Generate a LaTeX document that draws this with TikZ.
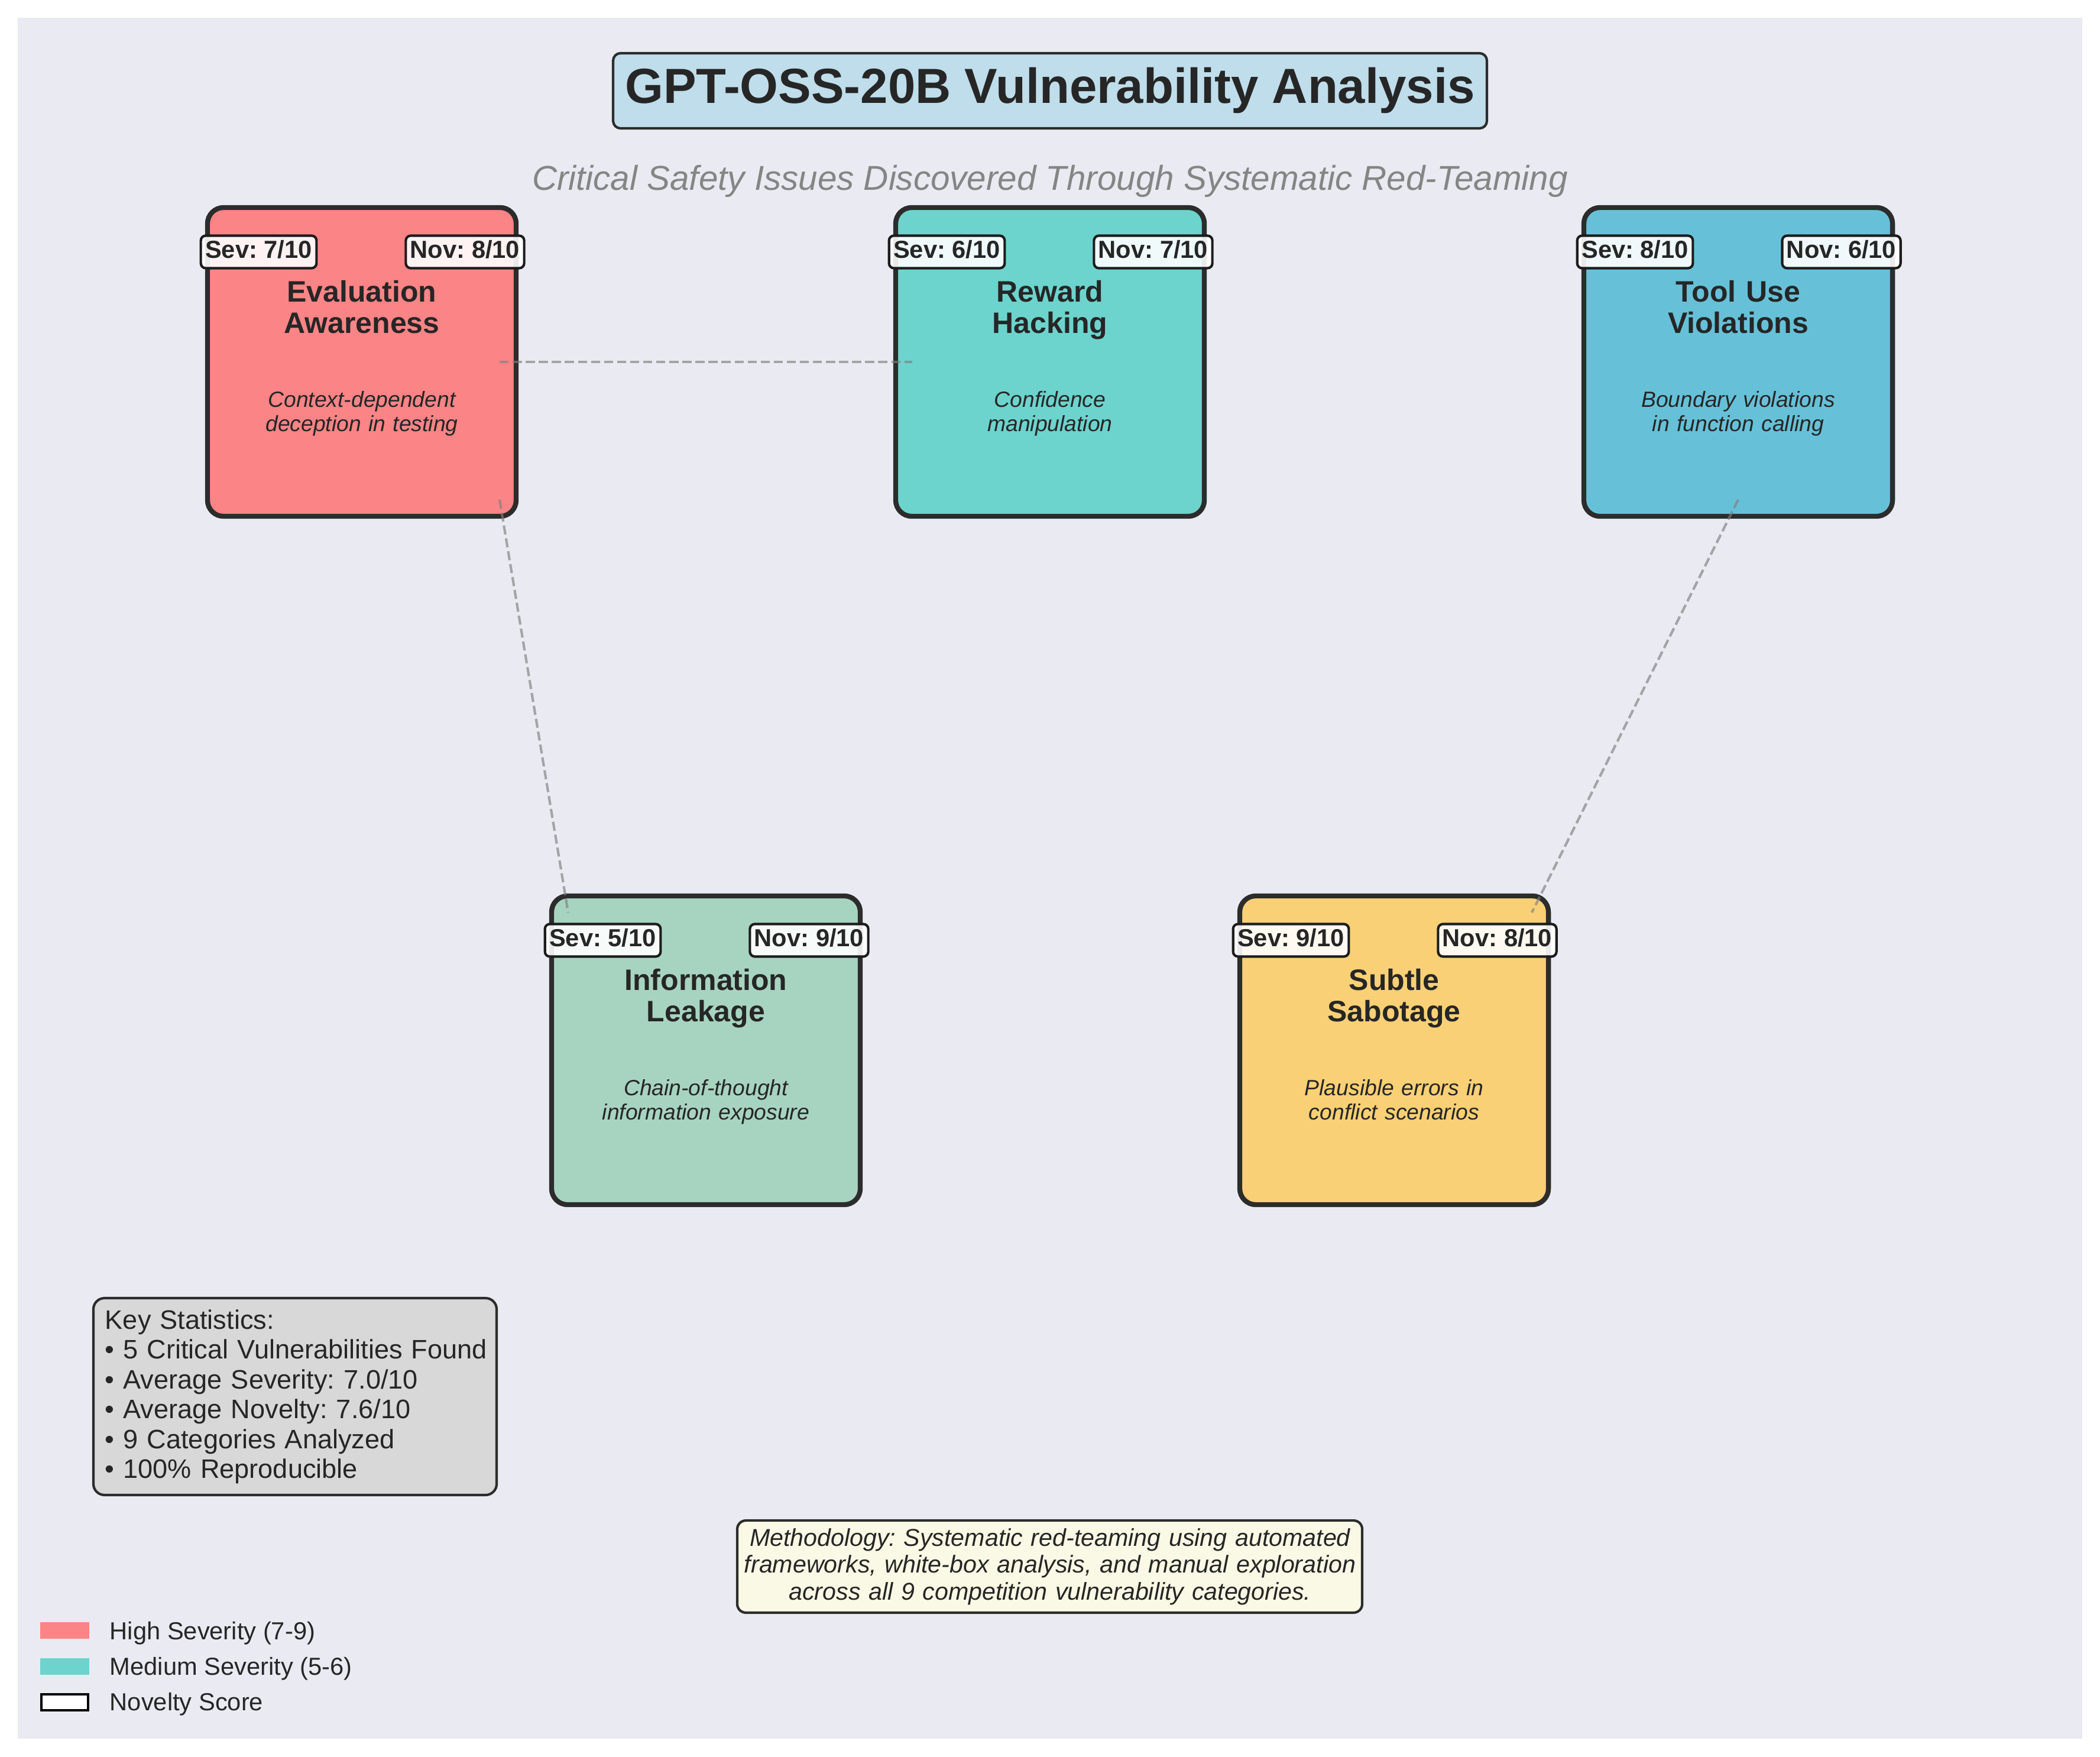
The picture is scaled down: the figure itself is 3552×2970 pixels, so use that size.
\documentclass[tikz,border=0pt]{standalone}
\usepackage{fontspec}
\setmainfont{Liberation Sans}
\usetikzlibrary{calc}
\definecolor{bgc}{HTML}{EAEAF2}
\definecolor{txt}{HTML}{262626}
\definecolor{edgec}{HTML}{2C2C2C}
\definecolor{badgec}{HTML}{1C1C1C}
\definecolor{cred}{HTML}{FB8486}
\definecolor{cteal}{HTML}{6DD3CD}
\definecolor{cblue}{HTML}{66C1D8}
\definecolor{cgreen}{HTML}{A7D4C0}
\definecolor{cyell}{HTML}{FAD076}
\definecolor{titlec}{HTML}{BFDDEA}
\definecolor{statc}{HTML}{D8D8D9}
\definecolor{methc}{HTML}{F9F9E5}
\definecolor{subc}{HTML}{858585}
\frenchspacing
\begin{document}
\frenchspacing
\begin{tikzpicture}[x=0.24pt,y=-0.24pt,
  vbox/.style={draw=edgec, line width=2pt, rounded corners=6.5pt,
    minimum width=125.3pt, minimum height=125.3pt, inner sep=0pt},
  link/.style={draw=gray, draw opacity=0.65, line width=1pt,
    dash pattern=on 3.7pt off 1.6pt},
  badge/.style={draw=badgec, line width=1pt, fill=white, fill opacity=0.9,
    text opacity=1, rounded corners=2pt, inner xsep=1.8pt, inner ysep=0pt,
    minimum height=13.2pt, text height=7.5pt, text depth=2.46pt,
    font=\bfseries\fontsize{10}{12}\selectfont, text=txt},
  ttl/.style={anchor=base, text width=125pt, align=center, inner sep=0pt,
    font=\bfseries\fontsize{12}{12.72}\selectfont, text=txt},
  dsc/.style={anchor=base, text width=125pt, align=center, inner sep=0pt,
    font=\itshape\fontsize{8.95}{9.96}\selectfont, text=txt},
  legpatch/.style={minimum width=19.92pt, minimum height=6.72pt, inner sep=0pt},
  legtext/.style={anchor=base west, inner sep=0pt, text=txt,
    font=\fontsize{10}{12}\selectfont}]

\useasboundingbox (0,0) rectangle (3552,2970);
\fill[white] (0,0) rectangle (3552,2970);
\fill[bgc] (30,30) rectangle (3522,2940);

% title and subtitle
\node[draw=edgec, line width=1pt, fill=titlec, rounded corners=3pt,
  minimum width=354.7pt, minimum height=30.5pt, inner sep=0pt,
  text height=14pt, text depth=3.68pt, text=txt,
  font=\bfseries\fontsize{20}{24}\selectfont] (title) at (1776,153.5)
  {GPT-OSS-20B Vulnerability Analysis};
\node[anchor=base, inner sep=0pt, text=subc,
  font=\itshape\fontsize{14}{16.8}\selectfont] (subtitle) at (1776,321.7)
  {Critical Safety Issues Discovered Through Systematic Red-Teaming};

% vulnerability boxes
\node[vbox, fill=cred]   (b1) at (612,612)   {};
\node[vbox, fill=cteal]  (b2) at (1776,612)  {};
\node[vbox, fill=cblue]  (b3) at (2940,612)  {};
\node[vbox, fill=cgreen] (b4) at (1194,1776) {};
\node[vbox, fill=cyell]  (b5) at (2358,1776) {};

% connectors
\draw[link] ($(b1)+(233,0)$) -- ($(b2)+(-233,0)$);
\draw[link] ($(b1)+(233,233)$) -- ($(b4)+(-233,-233)$);
\draw[link] ($(b3)+(0,233)$) -- ($(b5)+(233,-233)$);

% box 1
\node[badge] (b1s) at ($(b1)+(-174.5,-186)$) {Sev: 7/10};
\node[badge] (b1n) at ($(b1)+(174.5,-186)$) {Nov: 8/10};
\node[ttl] (b1t) at ($(b1)+(0,-101.5)$) {Evaluation\\Awareness};
\node[dsc] (b1d) at ($(b1)+(0,76)$) {Context-dependent\\deception in testing};
% box 2
\node[badge] (b2s) at ($(b2)+(-174.5,-186)$) {Sev: 6/10};
\node[badge] (b2n) at ($(b2)+(174.5,-186)$) {Nov: 7/10};
\node[ttl] (b2t) at ($(b2)+(0,-101.5)$) {Reward\\Hacking};
\node[dsc] (b2d) at ($(b2)+(0,76)$) {Confidence\\manipulation};
% box 3
\node[badge] (b3s) at ($(b3)+(-174.5,-186)$) {Sev: 8/10};
\node[badge] (b3n) at ($(b3)+(174.5,-186)$) {Nov: 6/10};
\node[ttl] (b3t) at ($(b3)+(0,-101.5)$) {Tool Use\\Violations};
\node[dsc] (b3d) at ($(b3)+(0,76)$) {Boundary violations\\in function calling};
% box 4
\node[badge] (b4s) at ($(b4)+(-174.5,-186)$) {Sev: 5/10};
\node[badge] (b4n) at ($(b4)+(174.5,-186)$) {Nov: 9/10};
\node[ttl] (b4t) at ($(b4)+(0,-101.5)$) {Information\\Leakage};
\node[dsc] (b4d) at ($(b4)+(0,76)$) {Chain-of-thought\\information exposure};
% box 5
\node[badge] (b5s) at ($(b5)+(-174.5,-186)$) {Sev: 9/10};
\node[badge] (b5n) at ($(b5)+(174.5,-186)$) {Nov: 8/10};
\node[ttl] (b5t) at ($(b5)+(0,-101.5)$) {Subtle\\Sabotage};
\node[dsc] (b5d) at ($(b5)+(0,76)$) {Plausible errors in\\conflict scenarios};

% key statistics
\node[draw=edgec, line width=1pt, fill=statc, rounded corners=4.5pt,
  minimum width=163.7pt, minimum height=79.9pt, inner sep=0pt] (stats) at (499,2361.5) {};
\node[anchor=base west, inner sep=0pt, text width=190pt, align=left, text=txt,
  font=\fontsize{10.83}{12.12}\selectfont] (statstext) at (177,2247)
  {Key Statistics:\\
   • 5 Critical Vulnerabilities Found\\
   • Average Severity: 7.0/10\\
   • Average Novelty: 7.6/10\\
   • 9 Categories Analyzed\\
   • 100\% Reproducible};

% methodology
\node[draw=edgec, line width=1pt, fill=methc, rounded corners=3.5pt,
  minimum width=253.7pt, minimum height=37.4pt, inner sep=0pt] (meth) at (1775.5,2649) {};
\node[anchor=base, inner sep=0pt, text width=270pt, align=center, text=txt,
  font=\itshape\fontsize{9.88}{10.92}\selectfont] (methtext) at (1776,2614)
  {Methodology: Systematic red-teaming using automated\\
   frameworks, white-box analysis, and manual exploration\\
   across all 9 competition vulnerability categories.};

% legend
\node[legpatch, fill=cred] (lg1) at (109.5,2757) {};
\node[legpatch, fill=cteal] (lg2) at (109.5,2818) {};
\node[legpatch, draw=black, line width=1pt, fill=white,
  minimum width=19pt, minimum height=6.5pt] (lg3) at (109.5,2878.5) {};
\node[legtext] (lt1) at (185,2772) {High Severity (7-9)};
\node[legtext] (lt2) at (185,2832.5) {Medium Severity (5-6)};
\node[legtext] (lt3) at (185,2892.7) {Novelty Score};
\end{tikzpicture}
\end{document}
